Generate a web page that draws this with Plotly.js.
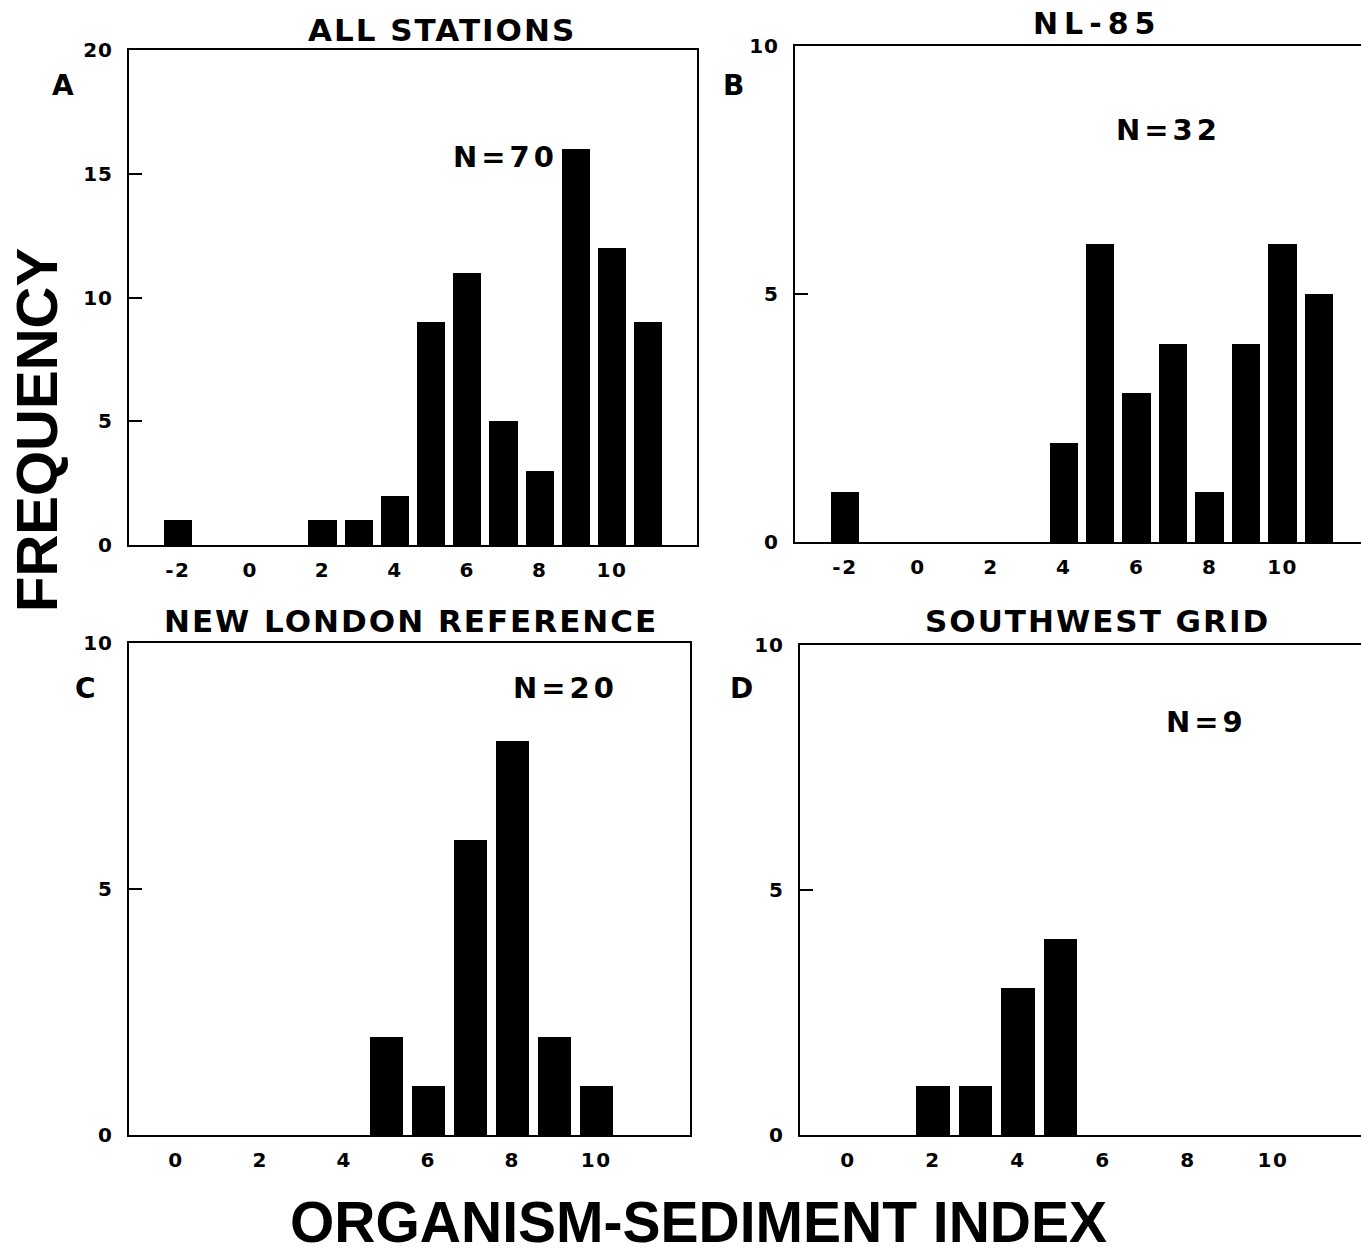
<!DOCTYPE html>
<html>
<head>
<meta charset="utf-8">
<script src="https://cdn.plot.ly/plotly-3.0.1.min.js"></script>
<style>
html,body{margin:0;padding:0;background:#fff;}
#chart{width:1361px;height:1255px;}
g.annotation[data-index="0"] text, g.annotation[data-index="2"] text, g.annotation[data-index="3"] text {letter-spacing:2px;}
g.annotation[data-index="1"] text {letter-spacing:6px;}
g.annotation[data-index="8"] text, g.annotation[data-index="9"] text, g.annotation[data-index="10"] text, g.annotation[data-index="11"] text {letter-spacing:4px;}
g.xtick text, g.x2tick text, g.x3tick text, g.x4tick text {letter-spacing:1.5px;}
g.ytick text, g.y2tick text, g.y3tick text, g.y4tick text {letter-spacing:1px;}
</style>
</head>
<body>
<div id="chart"></div>
<script>
// ---- data ----
const indexA = [-2, -1, 0, 1, 2, 3, 4, 5, 6, 7, 8, 9, 10, 11];
const freqA  = [ 1,  0, 0, 0, 1, 1, 2, 9, 11, 5, 3, 16, 12, 9];
const indexB = [-2, -1, 0, 1, 2, 3, 4, 5, 6, 7, 8, 9, 10, 11];
const freqB  = [ 1,  0, 0, 0, 0, 0, 2, 6, 3, 4, 1, 4, 6, 5];
const indexC = [0, 1, 2, 3, 4, 5, 6, 7, 8, 9, 10, 11];
const freqC  = [0, 0, 0, 0, 0, 2, 1, 6, 8, 2, 1, 0];
const indexD = [0, 1, 2, 3, 4, 5, 6, 7, 8, 9, 10, 11];
const freqD  = [0, 0, 1, 1, 3, 4, 0, 0, 0, 0, 0, 0];
const panelTitles = ["ALL STATIONS", "NL-85", "NEW LONDON REFERENCE", "SOUTHWEST GRID"];
const panelLetters = ["A", "B", "C", "D"];
const nLabels = ["N=70", "N=32", "N=20", "N=9"];
const ticksAB = [-2, 0, 2, 4, 6, 8, 10];
const tickTextAB = ["-2", "0", "2", "4", "6", "8", "10"];
const ticksCD = [0, 2, 4, 6, 8, 10];
const tickTextCD = ["0", "2", "4", "6", "8", "10"];
const yTicksA = [0, 5, 10, 15, 20];
const yTicksBCD = [0, 5, 10];
const yTitle = "FREQUENCY";
const xTitle = "ORGANISM-SEDIMENT INDEX";

// ---- layout helpers ----
const W = 1361, H = 1255;
const px = x => x / W;
const py = y => 1 - y / H;
const FAM = "Liberation Sans, Arial, Helvetica, sans-serif";
const WIDE = "DejaVu Sans, Verdana, sans-serif";

function bar(x, y, xa, ya) {
  return {type: 'bar', x: x, y: y, xaxis: xa, yaxis: ya, width: 0.78,
    marker: {color: '#000', line: {width: 0}}, hoverinfo: 'x+y', showlegend: false};
}
const data = [
  bar(indexA, freqA, 'x', 'y'),
  bar(indexB, freqB, 'x2', 'y2'),
  bar(indexC, freqC, 'x3', 'y3'),
  bar(indexD, freqD, 'x4', 'y4')
];

const tickFont = {family: WIDE, size: 20, color: '#000', weight: 700};
function xax(dom, range, tv, tt, anchor) {
  return {domain: dom, range: range, anchor: anchor, tickvals: tv, ticktext: tt, ticks: '',
    showline: true, linecolor: '#000', linewidth: 2, mirror: true,
    showgrid: false, zeroline: false, tickfont: tickFont, ticklabelstandoff: 6, fixedrange: true};
}
function yax(dom, range, tv, anchor, mirror) {
  return {domain: dom, range: range, anchor: anchor, tickvals: tv, ticks: 'inside', ticklen: 13,
    tickwidth: 2, tickcolor: '#000', showline: true, linecolor: '#000', linewidth: 2, mirror: mirror,
    showgrid: false, zeroline: false, tickfont: tickFont, ticklabelstandoff: 10, fixedrange: true};
}

function ann(text, x, y, size, fam, extra) {
  return Object.assign({text: text, x: px(x), y: py(y), xref: 'paper', yref: 'paper',
    showarrow: false, xanchor: 'center', yanchor: 'middle',
    font: {family: fam, size: size, color: '#000', weight: 700}}, extra || {});
}

const annotations = [
  ann(panelTitles[0], 442, 30, 31, WIDE),
  ann(panelTitles[1], 1097, 24, 30, WIDE),
  ann(panelTitles[2], 411, 621, 31, WIDE),
  ann(panelTitles[3], 1097, 621, 31, WIDE),
  ann(panelLetters[0], 63, 86, 28, WIDE),
  ann(panelLetters[1], 733, 86, 28, WIDE),
  ann(panelLetters[2], 86, 688, 28, WIDE),
  ann(panelLetters[3], 741, 688, 28, WIDE),
  ann(nLabels[0], 505, 157, 29, WIDE),
  ann(nLabels[1], 1168, 130, 29, WIDE),
  ann(nLabels[2], 565, 688, 29, WIDE),
  ann(nLabels[3], 1206, 722, 29, WIDE),
  ann(yTitle, 37, 430, 58, FAM, {textangle: -90}),
  ann(xTitle, 698, 1222, 57, FAM)
];

const layout = {
  width: W, height: H,
  margin: {l: 0, r: 0, t: 0, b: 0},
  paper_bgcolor: '#fff', plot_bgcolor: '#fff',
  showlegend: false,
  bargap: 0,
  xaxis:  xax([px(129), px(697)], [-3.35, 12.35], ticksAB, tickTextAB, 'y'),
  yaxis:  yax([py(545), py(50)], [0, 20], yTicksA, 'x', true),
  xaxis2: xax([px(795), 1], [-3.37, 12.15], ticksAB, tickTextAB, 'y2'),
  yaxis2: yax([py(542), py(46)], [0, 10], yTicksBCD, 'x2', false),
  xaxis3: xax([px(129), px(690)], [-1.12, 12.23], ticksCD, tickTextCD, 'y3'),
  yaxis3: yax([py(1135), py(643)], [0, 10], yTicksBCD, 'x3', true),
  xaxis4: xax([px(800), 1], [-1.13, 12.07], ticksCD, tickTextCD, 'y4'),
  yaxis4: yax([py(1135), py(645)], [0, 10], yTicksBCD, 'x4', false),
  annotations: annotations
};

Plotly.newPlot('chart', data, layout, {displayModeBar: false, staticPlot: true});
</script>
</body>
</html>
